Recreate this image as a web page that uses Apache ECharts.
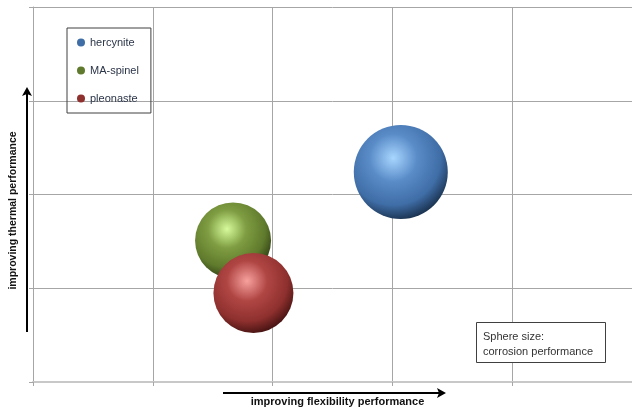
<!DOCTYPE html>
<html><head><meta charset="utf-8">
<script src="https://cdn.jsdelivr.net/npm/echarts@6/dist/echarts.min.js"></script>
<style>html,body{margin:0;padding:0;background:#fff}#c{width:632px;height:412px}</style>
</head><body><div id="c"></div>
<script>
// Data (relative scale units)
const names = ['hercynite', 'MA-spinel', 'pleonaste'];
const flexibility = [3.07, 1.67, 1.84];   // x
const thermal = [2.24, 1.51, 0.95];       // y
const corrosion = [4.7, 3.8, 4.0];        // bubble size
const palettes = [
  ['#a8d6ff', '#5a8cc8', '#3f6da6', '#0f2035'],
  ['#d6fa9c', '#7f9d42', '#5f7a2c', '#1f2a0c'],
  ['#f7a19e', '#b04644', '#8e302e', '#300a09']
];

function sphere(p) {
  return new echarts.graphic.RadialGradient(0.42, 0.35, 0.72, [
    {offset: 0, color: p[0]},
    {offset: 0.35, color: p[1]},
    {offset: 0.7, color: p[2]},
    {offset: 1, color: p[3]}
  ]);
}

const chart = echarts.init(document.getElementById('c'), null, {renderer: 'canvas'});
const series = names.map((n, i) => ({
  name: n,
  type: 'scatter',
  data: [[flexibility[i], thermal[i], corrosion[i]]],
  symbolSize: v => v[2] * 20,
  itemStyle: {color: sphere(palettes[i]), opacity: 1},
  emphasis: {disabled: true}
}));

chart.setOption({
  animation: false,
  backgroundColor: '#fff',
  grid: {left: 33, right: -1, top: 7, bottom: 26},
  legend: {
    orient: 'vertical', left: 67, top: 28,
    padding: [9, 12, 9, 10],
    borderColor: '#404040', borderWidth: 1,
    icon: 'circle', itemWidth: 8, itemHeight: 8, itemGap: 17,
    textStyle: {fontFamily: 'Liberation Sans, Arial', fontSize: 11, color: '#2b3548'},
    data: names.map((n, i) => ({name: n, itemStyle: {color: palettes[i][2]}}))
  },
  xAxis: {
    type: 'value', min: 0, max: 5, interval: 1,
    axisLabel: {show: false},
    axisLine: {show: true, lineStyle: {color: '#c8c8c8', width: 2}},
    axisTick: {show: true, length: 4, lineStyle: {color: '#a6a6a6'}},
    splitLine: {show: true, lineStyle: {color: '#a6a6a6', width: 1}},
    name: 'improving flexibility performance',
    nameLocation: 'middle', nameGap: 14,
    nameTextStyle: {fontFamily: 'Liberation Sans, Arial', fontWeight: 'bold', fontSize: 11, color: '#111', padding: [0, 0, 0, 10]}
  },
  yAxis: {
    type: 'value', min: 0, max: 4, interval: 1,
    axisLabel: {show: false},
    axisLine: {show: true, lineStyle: {color: '#a6a6a6', width: 1}},
    axisTick: {show: true, length: 4, lineStyle: {color: '#a6a6a6'}},
    splitLine: {show: true, lineStyle: {color: '#a6a6a6', width: 1}},
    name: 'improving thermal performance',
    nameLocation: 'middle', nameGap: 14,
    nameTextStyle: {fontFamily: 'Liberation Sans, Arial', fontWeight: 'bold', fontSize: 10.5, color: '#111', padding: [0, 32, 0, 0]}
  },
  graphic: [
    {type: 'line', shape: {x1: 223, y1: 393, x2: 440, y2: 393}, style: {stroke: '#000', lineWidth: 2}},
    {type: 'polygon', shape: {points: [[446, 393], [437, 388], [439, 393], [437, 398]]}, style: {fill: '#000'}},
    {type: 'line', shape: {x1: 27, y1: 332, x2: 27, y2: 93}, style: {stroke: '#000', lineWidth: 2}},
    {type: 'polygon', shape: {points: [[27, 87], [22, 96], [27, 94], [32, 96]]}, style: {fill: '#000'}},
    {type: 'rect', shape: {x: 476.5, y: 322.5, width: 129, height: 40}, style: {fill: '#fff', stroke: '#404040', lineWidth: 1}, z: 10},
    {type: 'text', left: 483, top: 329, z: 11, style: {text: 'Sphere size:\ncorrosion performance', fill: '#333', font: '11px Liberation Sans, Arial', lineHeight: 15}}
  ],
  series: series
});
</script></body></html>
